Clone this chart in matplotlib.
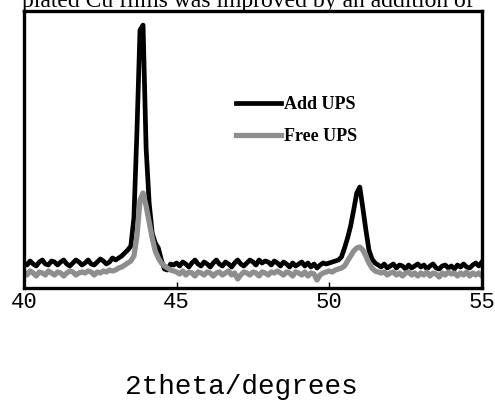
# XRD pattern: Cu films with / without UPS additive
import numpy as np
import matplotlib
matplotlib.use("Agg")
import matplotlib.pyplot as plt

# 2theta grid, 40.0 .. 55.0 in 0.1 degree steps
two_theta = np.round(np.arange(40.0, 55.05, 0.1), 1)

# intensity (arbitrary units)
add_ups = [
    25, 23, 27, 24, 22, 26, 28, 24, 23, 27,
    26, 23, 26, 28, 24, 22, 25, 28, 26, 23,
    25, 28, 24, 23, 26, 29, 27, 24, 26, 30,
    28, 30, 32, 35, 38, 42, 70, 157, 258, 263,
    140, 85, 55, 45, 40, 28, 19, 18, 24, 23,
    25, 22, 26, 24, 21, 25, 28, 24, 22, 26,
    24, 21, 25, 28, 24, 22, 26, 24, 21, 25,
    28, 24, 22, 25, 28, 26, 23, 28, 25, 27,
    26, 23, 27, 25, 22, 26, 24, 21, 25, 22,
    24, 26, 22, 25, 21, 24, 20, 23, 25, 24,
    25, 26, 27, 28, 31, 40, 50, 62, 78, 95,
    101, 80, 58, 38, 29, 25, 23, 21, 24, 20,
    22, 24, 20, 23, 22, 19, 23, 20, 22, 24,
    21, 23, 19, 22, 24, 20, 19, 22, 23, 20,
    22, 19, 23, 21, 24, 21, 20, 23, 25, 22,
    26,
]

free_ups = [
    16, 13, 17, 15, 12, 16, 15, 13, 17, 15,
    13, 16, 15, 12, 15, 17, 16, 13, 15, 16,
    15, 17, 16, 13, 16, 15, 17, 16, 18, 17,
    18, 20, 21, 23, 25, 27, 32, 52, 88, 95,
    82, 66, 50, 37, 30, 25, 22, 20, 18, 17,
    16, 14, 17, 13, 16, 15, 12, 16, 15, 13,
    16, 15, 12, 15, 16, 13, 15, 17, 13, 15,
    9, 13, 16, 15, 13, 16, 15, 12, 16, 15,
    13, 16, 15, 17, 15, 13, 16, 15, 12, 16,
    15, 13, 16, 12, 15, 14, 8, 13, 15, 16,
    17, 16, 18, 19, 20, 22, 27, 32, 37, 40,
    41, 38, 32, 25, 20, 17, 16, 15, 16, 13,
    15, 16, 13, 15, 12, 15, 16, 13, 15, 12,
    15, 13, 16, 12, 15, 14, 11, 15, 13, 16,
    14, 15, 12, 15, 13, 16, 12, 15, 13, 15,
    12,
]

x_ticks = [40, 45, 50, 55]

fig = plt.figure(figsize=(4.95, 4.03), dpi=100)
ax = fig.add_axes([0.0485, 0.2854, 0.925, 0.687])

ax.plot(two_theta, add_ups, color="black", lw=3.4, label="Add UPS")
ax.plot(two_theta, free_ups, color="#8e8e8e", lw=3.8, label="Free UPS")

ax.set_xlim(40, 55)
ax.set_ylim(0, 277)
ax.set_xticks(x_ticks)
ax.set_yticks([])
ax.tick_params(axis="x", direction="in", length=4, width=1, pad=3)
for lab in ax.get_xticklabels():
    lab.set_fontfamily("Liberation Mono")
    lab.set_fontsize(16)
for sp in ax.spines.values():
    sp.set_linewidth(2.4)

ax.set_xlabel("2theta/degrees", fontfamily="Liberation Mono", fontsize=20)
ax.xaxis.set_label_coords(0.475, -0.31)

ax.legend(frameon=False, loc="upper left", bbox_to_anchor=(0.463, 0.692),
          borderaxespad=0, borderpad=0, handlelength=2.5, handletextpad=0.15,
          labelspacing=0.8, prop={"family": "Liberation Serif", "size": 13, "weight": "bold"})

# caption line cut off at the top of the figure
fig.text(0.5, 1 - 7 / 403, "plated Cu films was improved by an addition of",
         ha="center", va="baseline", fontfamily="Liberation Serif", fontsize=17)

fig.savefig("out.png", dpi=100)
